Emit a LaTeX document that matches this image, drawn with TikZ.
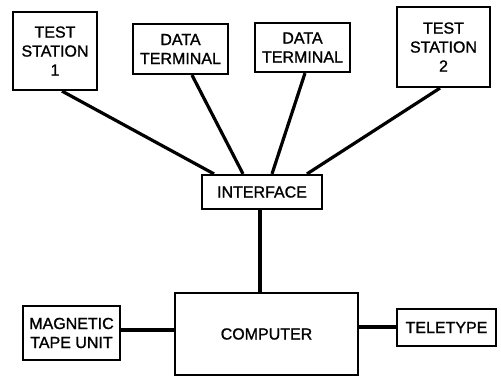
\documentclass[tikz,border=0pt]{standalone}
\usepackage{fontspec}
\setmainfont{Liberation Sans}[FakeBold=1.2]
\begin{document}
\begin{tikzpicture}[x=1pt,y=-1pt,
  box/.style={draw,line width=2.2pt,inner sep=0pt,align=center,font=\fontsize{16}{19}\selectfont},
  wire/.style={line width=3.2pt}]
\useasboundingbox (0,0) rectangle (501,377);
\node[box,minimum width=84pt,minimum height=78pt] (ts1) at (55,51) {TEST\\STATION\\1};
\node[box,minimum width=95pt,minimum height=50pt] (dt1) at (180.5,49) {DATA\\TERMINAL};
\node[box,minimum width=95pt,minimum height=49pt] (dt2) at (302.5,47.5) {DATA\\TERMINAL};
\node[box,minimum width=93pt,minimum height=80pt] (ts2) at (443.5,47) {TEST\\STATION\\2};
\node[box,minimum width=120pt,minimum height=34pt] (if) at (262,192) {INTERFACE};
\node[box,minimum width=183pt,minimum height=82pt] (comp) at (266.5,334) {COMPUTER};
\node[box,minimum width=97pt,minimum height=54pt] (mag) at (71.5,333) {MAGNETIC\\TAPE UNIT};
\node[box,minimum width=99pt,minimum height=37pt] (tel) at (446.5,327.5) {TELETYPE};
\draw[wire] ([xshift=7pt]ts1.south) -- ([xshift=-48pt]if.north);
\draw[wire] ([xshift=11.5pt]dt1.south) -- ([xshift=-19pt]if.north);
\draw[wire] ([xshift=2.5pt]dt2.south) -- ([xshift=10pt]if.north);
\draw[wire] ([xshift=-3.5pt]ts2.south) -- ([xshift=45pt]if.north);
\draw[wire] ([xshift=-2pt]if.south) -- ([xshift=-2pt]if.south |- comp.north);
\draw[wire] (mag.east |- 0,330) -- (comp.west |- 0,330);
\draw[wire] (comp.east |- 0,327) -- (tel.west |- 0,327);
\end{tikzpicture}
\end{document}
